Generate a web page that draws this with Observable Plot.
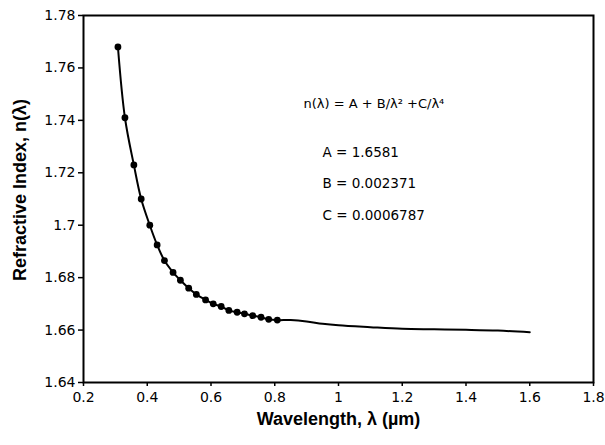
<!DOCTYPE html>
<html>
<head>
<meta charset="utf-8">
<script src="https://cdn.jsdelivr.net/npm/d3@7"></script>
<script src="https://cdn.jsdelivr.net/npm/@observablehq/plot@0.6"></script>
<style>
  html, body { margin: 0; padding: 0; background: #fff; }
  #chart svg { display: block; }
</style>
</head>
<body>
<div id="chart"></div>
<script>
// Measured points (wavelength in µm, refractive index)
const pointWavelength = [0.308, 0.330, 0.358, 0.381, 0.408, 0.431, 0.454, 0.481, 0.504, 0.530, 0.554,
                         0.583, 0.607, 0.632, 0.656, 0.682, 0.705, 0.731, 0.757, 0.781, 0.808];
const pointIndex = [1.768, 1.741, 1.723, 1.710, 1.700, 1.6925, 1.6865, 1.682, 1.679, 1.676, 1.6736,
                    1.6715, 1.670, 1.669, 1.6675, 1.6668, 1.6662, 1.6655, 1.6649, 1.6641, 1.6638];

const tailWavelength = [0.85, 0.90, 0.95, 1.00, 1.10, 1.20, 1.30, 1.40, 1.50, 1.60];
const tailIndex = [1.6638, 1.6633, 1.6624, 1.6618, 1.6611, 1.6605, 1.6603, 1.6601, 1.6598, 1.6592];

const xTicks = [0.2, 0.4, 0.6, 0.8, 1.0, 1.2, 1.4, 1.6, 1.8];
const yTicks = [1.64, 1.66, 1.68, 1.70, 1.72, 1.74, 1.76, 1.78];

const formulaText = "n(λ) = A + B/λ² +C/λ⁴";
const coefLabels = ["A = 1.6581", "B = 0.002371", "C = 0.0006787"];
const coefY = [1.7277, 1.7159, 1.7037];

const points = pointWavelength.map((x, i) => ({x, y: pointIndex[i]}));
const curve = points.concat(tailWavelength.map((x, i) => ({x, y: tailIndex[i]})));
const coefs = coefLabels.map((t, i) => ({t, y: coefY[i]}));

const chart = Plot.plot({
  width: 605,
  height: 445,
  marginLeft: 83,
  marginRight: 12,
  marginTop: 15,
  marginBottom: 63,
  style: {fontFamily: "'DejaVu Sans', sans-serif", fontSize: "14px", color: "#000", background: "#fff"},
  x: {domain: [0.2, 1.8]},
  y: {domain: [1.64, 1.78]},
  marks: [
    Plot.axisX({ticks: xTicks, tickSize: 4, tickPadding: 6, tickFormat: d => String(+d.toFixed(1)), label: null, strokeWidth: 1.5}),
    Plot.axisY({ticks: yTicks, tickSize: 5, tickPadding: 3, tickFormat: d => String(+d.toFixed(2)), label: null, strokeWidth: 1.5}),
    Plot.frame({stroke: "#000", strokeWidth: 2}),
    Plot.line(curve, {x: "x", y: "y", curve: "catmull-rom", stroke: "#000", strokeWidth: 2}),
    Plot.dot(points, {x: "x", y: "y", r: 3.4, fill: "#000"}),
    Plot.text([formulaText], {x: 0.89, y: 1.7464, text: d => d, textAnchor: "start", fontSize: 13}),
    Plot.text(coefs, {x: 0.95, y: "y", text: "t", textAnchor: "start", fontSize: 13.5}),
    Plot.text(["Wavelength, λ (µm)"], {frameAnchor: "bottom", text: d => d, textAnchor: "middle", dy: 42, fontFamily: "'Liberation Sans', Arial, sans-serif", fontSize: 18, fontWeight: "bold"}),
    Plot.text(["Refractive Index, n(λ)"], {frameAnchor: "left", text: d => d, textAnchor: "middle", rotate: -90, dx: -63, dy: -9, fontFamily: "'Liberation Sans', Arial, sans-serif", fontSize: 18, fontWeight: "bold"})
  ]
});
document.getElementById("chart").appendChild(chart);
</script>
</body>
</html>
